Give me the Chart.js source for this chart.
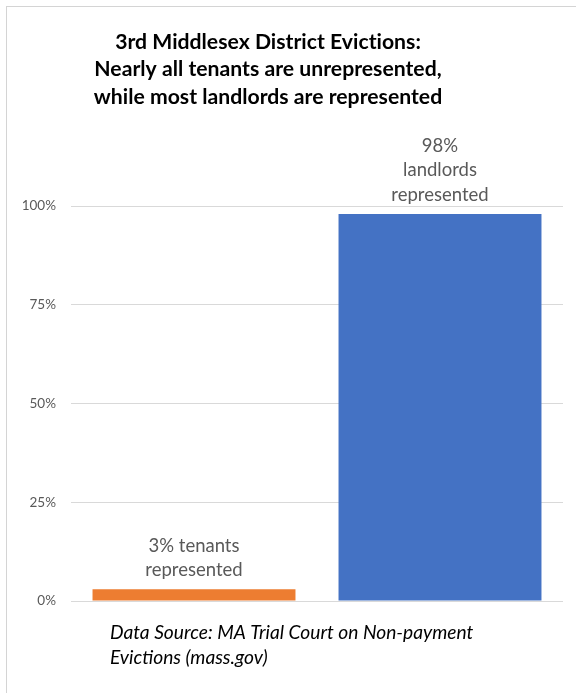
<!DOCTYPE html>
<html>
<head>
<meta charset="utf-8">
<script src="https://cdn.jsdelivr.net/npm/chart.js@4"></script>
<style>
  html, body { margin: 0; padding: 0; background: #fff; }
  #wrap { position: relative; width: 576px; height: 693px; overflow: hidden; }
  #frame {
    position: absolute; left: 6px; top: 6px; width: 600px; height: 700px;
    border-top: 1px solid #d4d4d4; border-left: 1px solid #d4d4d4;
    pointer-events: none;
  }
  canvas { position: absolute; left: 0; top: 0; }
</style>
</head>
<body>
<div id="wrap">
  <canvas id="chart" width="576" height="693"></canvas>
  <div id="frame"></div>
</div>
<script>
const categories = ["Tenants", "Landlords"];
const represented = [3, 98];
const barColors = ["#ED7D31", "#4472C4"];
const barLabels = [
    ["3% tenants", "represented"],
    ["98%", "landlords", "represented"]
];
const yTicks = [0, 25, 50, 75, 100];
const titleLines = [
    "3rd Middlesex District Evictions:",
    "Nearly all tenants are unrepresented,",
    "while most landlords are represented"
];
const sourceLines = [
    "Data Source: MA Trial Court on Non-payment",
    "Evictions (mass.gov)"
];

const FONT = "Lato, 'Open Sans', sans-serif";

// heading, centred a little left of the canvas middle
const titlePlugin = {
    id: "heading",
    afterDraw(chart) {
        const ctx = chart.ctx;
        ctx.save();
        ctx.font = "bold 21.2px " + FONT;
        ctx.letterSpacing = "0.01px"; // keeps "ti" from turning into a ligature
        ctx.fillStyle = "#000";
        ctx.textAlign = "center";
        ctx.textBaseline = "alphabetic";
        titleLines.forEach((line, j) => {
            ctx.fillText(line, 268, 48.5 + j * 27.6);
        });
        ctx.restore();
    }
};

// text above each bar, stacked upward from the bar top
const barLabelPlugin = {
    id: "barLabels",
    afterDatasetsDraw(chart) {
        const ctx = chart.ctx;
        const meta = chart.getDatasetMeta(0);
        ctx.save();
        ctx.font = "18.5px " + FONT;
        ctx.fillStyle = "#595959";
        ctx.textAlign = "center";
        ctx.textBaseline = "alphabetic";
        meta.data.forEach((bar, i) => {
            const lines = barLabels[i];
            lines.forEach((line, j) => {
                const y = bar.y - 13 - (lines.length - 1 - j) * 24.5;
                ctx.fillText(line, bar.x, y);
            });
        });
        ctx.restore();
    }
};

// source note under the plot
const sourcePlugin = {
    id: "sourceNote",
    afterDraw(chart) {
        const ctx = chart.ctx;
        ctx.save();
        ctx.font = "italic 19.2px " + FONT;
        ctx.fillStyle = "#000";
        ctx.textAlign = "left";
        ctx.textBaseline = "alphabetic";
        sourceLines.forEach((line, j) => {
            ctx.fillText(line, 110, 639 + j * 24.5);
        });
        ctx.restore();
    }
};

const chart = new Chart(document.getElementById("chart"), {
    type: "bar",
    data: {
        labels: categories,
        datasets: [{
            data: represented,
            backgroundColor: barColors,
            borderWidth: 0,
            categoryPercentage: 1,
            barPercentage: 0.825
        }]
    },
    options: {
        responsive: false,
        animation: false,
        layout: {
            padding: { left: 0, right: 13, top: 206, bottom: 92 }
        },
        plugins: {
            legend: { display: false },
            tooltip: { enabled: false },
            title: { display: false }
        },
        scales: {
            x: {
                display: false
            },
            y: {
                min: 0,
                max: 100,
                afterBuildTicks(scale) {
                    scale.ticks = yTicks.map(v => ({ value: v }));
                },
                afterFit(scale) {
                    scale.width = 71;
                },
                border: { display: false },
                grid: { color: "#d9d9d9", lineWidth: 1, drawTicks: false },
                ticks: {
                    padding: 15,
                    color: "#595959",
                    font: { family: FONT, size: 13.5 },
                    callback: v => v + "%"
                }
            }
        }
    },
    plugins: [titlePlugin, barLabelPlugin, sourcePlugin]
});
</script>
</body>
</html>
